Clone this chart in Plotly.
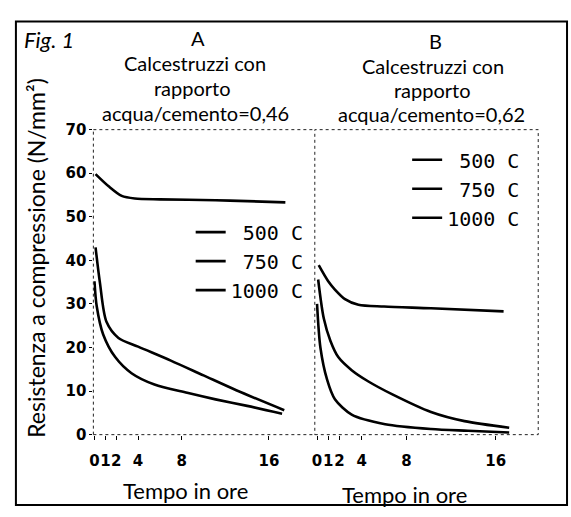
import plotly.graph_objects as go

# ---------------- data ----------------
legend_labels = ["\u00a0500 C", "\u00a0750 C", "1000 C"]

# Panel A: water/cement = 0.46
a500_t = [0.1, 1.3, 2.5, 3.7, 6, 11.1, 14, 17.5]
a500_y = [59.8, 57.0, 54.8, 54.2, 54.0, 53.8, 53.6, 53.3]
a750_t = [0.1, 0.5, 1.1, 2.2, 4, 7, 10, 13, 17.4]
a750_y = [43.0, 34.9, 25.9, 22.2, 20.2, 17.0, 13.6, 10.2, 5.6]
a1000_t = [0, 0.2, 0.8, 1.9, 3.4, 5.5, 8.5, 11.1, 14, 17.2]
a1000_y = [35.2, 29.6, 23.0, 17.8, 14.1, 11.5, 9.6, 8.1, 6.6, 4.8]

# Panel B: water/cement = 0.62
b500_t = [0.15, 1.0, 1.6, 2.5, 3.7, 6, 10.2, 16.7]
b500_y = [38.9, 35.2, 33.3, 31.1, 29.8, 29.4, 29.0, 28.3]
b750_t = [0.1, 0.6, 1.2, 1.9, 3.1, 4.6, 6.7, 10.2, 13.2, 17.2]
b750_y = [35.6, 26.7, 21.5, 17.8, 14.8, 12.2, 9.3, 5.2, 3.1, 1.6]
b1000_t = [0, 0.3, 0.9, 1.6, 3.1, 6.1, 10.2, 13.5, 17.2]
b1000_y = [30.0, 20.0, 12.6, 8.1, 4.6, 2.4, 1.3, 0.9, 0.5]

x_ticks = [0, 1, 2, 4, 8, 16]
y_ticks = [0, 10, 20, 30, 40, 50, 60, 70]

titleA_lines = ["A", "Calcestruzzi con", "rapporto", "acqua/cemento=0,46"]
titleB_lines = ["B", "Calcestruzzi con", "rapporto", "acqua/cemento=0,62"]
y_title = "Resistenza a compressione (N/mm\u00b2)"
x_title = "Tempo in ore"
fig_label = "<i>Fig. 1</i>"

# ---------------- figure ----------------
W, H = 571, 517
def px_x(p):
    return p / W
def px_y(p):
    return 1 - p / H

fig = go.Figure()
seriesA = [(a500_t, a500_y), (a750_t, a750_y), (a1000_t, a1000_y)]
seriesB = [(b500_t, b500_y), (b750_t, b750_y), (b1000_t, b1000_y)]
for i, (t, y) in enumerate(seriesA):
    fig.add_trace(go.Scatter(x=t, y=y, mode="lines", name=legend_labels[i],
                             line=dict(color="black", width=2.6, shape="spline", smoothing=0.8),
                             xaxis="x", yaxis="y", legend="legend"))
for i, (t, y) in enumerate(seriesB):
    fig.add_trace(go.Scatter(x=t, y=y, mode="lines", name=legend_labels[i],
                             line=dict(color="black", width=2.6, shape="spline", smoothing=0.8),
                             xaxis="x2", yaxis="y2", legend="legend2"))

tickfont = dict(family="DejaVu Sans", size=15, color="black", weight="bold")
title_font = dict(family="Lato", size=22, color="black")
head_font = dict(family="Lato", size=20, color="black")
ydom = [px_y(441), px_y(125)]

fig.update_layout(
    width=W, height=H,
    margin=dict(l=0, r=0, t=0, b=0),
    paper_bgcolor="white", plot_bgcolor="white",
    showlegend=True,
    xaxis=dict(domain=[px_x(90), px_x(313)], range=[-0.1, 20.2], tickvals=x_ticks,
               ticks="outside", ticklen=4, tickcolor="black", tickangle=0, ticklabelstandoff=8,
               showgrid=False, zeroline=False, showline=False, tickfont=tickfont, anchor="y"),
    yaxis=dict(domain=ydom, range=[0, 70], tickvals=y_ticks,
               ticks="outside", ticklen=3, tickcolor="black",
               showgrid=False, zeroline=False, showline=False, tickfont=tickfont, anchor="x"),
    xaxis2=dict(domain=[px_x(313), px_x(538)], range=[-0.2, 19.8], tickvals=x_ticks,
                ticks="outside", ticklen=4, tickcolor="black", tickangle=0, ticklabelstandoff=8,
                showgrid=False, zeroline=False, showline=False, tickfont=tickfont, anchor="y2"),
    yaxis2=dict(domain=ydom, range=[0, 70], matches="y", showticklabels=False,
                showgrid=False, zeroline=False, showline=False, anchor="x2"),
    legend=dict(x=px_x(188), y=px_y(211), xanchor="left", yanchor="top",
                bgcolor="rgba(0,0,0,0)", traceorder="normal",
                font=dict(family="DejaVu Sans Mono", size=20, color="black")),
    legend2=dict(x=px_x(406), y=px_y(136), xanchor="left", yanchor="top",
                 bgcolor="rgba(0,0,0,0)", traceorder="normal",
                 font=dict(family="DejaVu Sans Mono", size=20, color="black")),
)

dot = dict(color="#222", width=1, dash="dot")
# panel A: left, top, bottom dotted edges (right edge is panel B's axis)
for (x0, y0, x1, y1) in [(0, 0, 0, 1), (0, 1, 1, 1), (0, 0, 1, 0)]:
    fig.add_shape(type="line", xref="x domain", yref="y domain",
                  x0=x0, y0=y0, x1=x1, y1=y1, line=dot)
fig.add_shape(type="rect", xref="x2 domain", yref="y2 domain", x0=0, x1=1, y0=0, y1=1, line=dot)
fig.add_shape(type="rect", xref="paper", yref="paper",
              x0=px_x(12), x1=px_x(567), y0=px_y(514), y1=px_y(13),
              line=dict(color="black", width=2))

# panel headings, one annotation per line
a_pos = [(195, 30), (192, 56), (190, 82), (193, 108)]
b_pos = [(435, 33), (432, 59), (432, 84), (431, 109)]
for txt, (x, y) in zip(titleA_lines, a_pos):
    fig.add_annotation(text=txt, xref="paper", yref="paper", x=px_x(x), y=px_y(y),
                       xanchor="center", yanchor="middle", showarrow=False, font=head_font)
for txt, (x, y) in zip(titleB_lines, b_pos):
    fig.add_annotation(text=txt, xref="paper", yref="paper", x=px_x(x), y=px_y(y),
                       xanchor="center", yanchor="middle", showarrow=False, font=head_font)

fig.add_annotation(text=fig_label, xref="paper", yref="paper", x=px_x(18), y=px_y(32),
                   xanchor="left", yanchor="middle", showarrow=False, font=title_font)
# axis titles
fig.add_annotation(text=y_title, xref="paper", yref="paper", x=px_x(32), y=px_y(258),
                   xanchor="center", yanchor="middle", textangle=-90, showarrow=False,
                   font=dict(family="Lato", size=23, color="black"))
fig.add_annotation(text=x_title, xref="paper", yref="paper", x=px_x(183), y=px_y(499),
                   xanchor="center", yanchor="middle", showarrow=False, font=title_font)
fig.add_annotation(text=x_title, xref="paper", yref="paper", x=px_x(403), y=px_y(503),
                   xanchor="center", yanchor="middle", showarrow=False, font=title_font)

fig.write_html("out.html")
